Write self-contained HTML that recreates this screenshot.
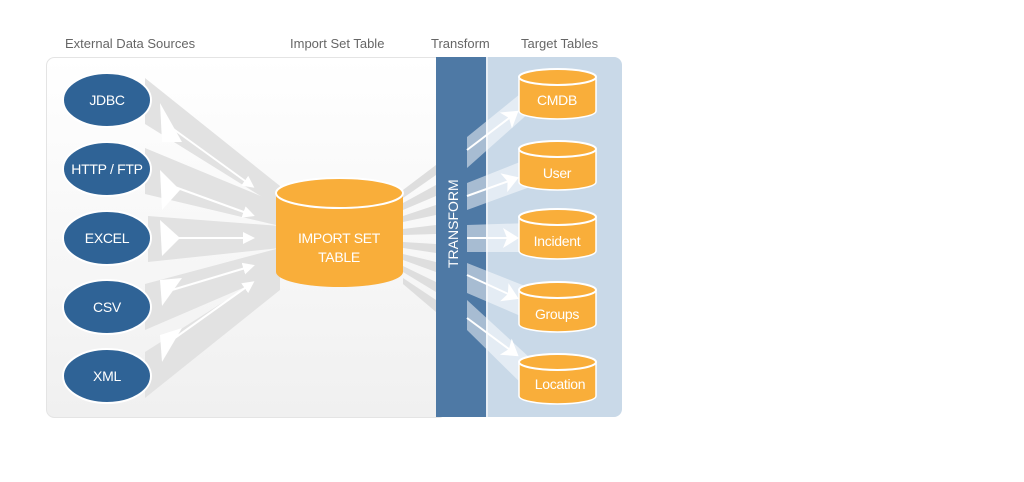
<!DOCTYPE html>
<html><head><meta charset="utf-8"><style>
html,body{margin:0;padding:0;background:#fff;width:1024px;height:482px;overflow:hidden}
svg{display:block}
text{font-family:"Liberation Sans",sans-serif}
</style></head><body>
<svg width="1024" height="482" viewBox="0 0 1024 482">
<defs>
<linearGradient id="lg" x1="0" y1="0" x2="0" y2="1"><stop offset="0" stop-color="#ffffff"/><stop offset="1" stop-color="#f0f0f0"/></linearGradient>
<marker id="ah" markerWidth="12" markerHeight="12" refX="9" refY="6" orient="auto" markerUnits="userSpaceOnUse"><path d="M0,0 L12,6 L0,12 Z" fill="#fff"/></marker>
<marker id="ah2" markerWidth="20" markerHeight="20" refX="14" refY="10" orient="auto" markerUnits="userSpaceOnUse"><path d="M0,0 L16,10 L0,20 L4,10 Z" fill="#fff"/></marker>
</defs>
<g font-size="13" fill="#666">
<text x="65" y="48">External Data Sources</text>
<text x="290" y="48">Import Set Table</text>
<text x="431" y="48">Transform</text>
<text x="521" y="48">Target Tables</text>
</g>
<rect x="46.5" y="57.5" width="400" height="360" rx="8" fill="url(#lg)" stroke="#e4e4e4"/>
<path d="M486,57 H614 a8,8 0 0 1 8,8 V409 a8,8 0 0 1 -8,8 H486 Z" fill="#c9d9e8"/>
<!-- left beams -->
<g fill="#e2e2e2">
<polygon points="145,78 145,124 280,208 280,186"/>
<polygon points="145,148 145,194 280,226 280,204"/>
<polygon points="148,216 148,262 280,248 280,226"/>
<polygon points="145,284 145,330 280,272 280,248"/>
<polygon points="145,352 145,398 280,290 280,266"/>
</g>
<g fill="#fff">
<polygon points="160,103 182,142 162,142"/>
<polygon points="160,170 180,190 162,210"/>
<polygon points="160,220 180,238 162,256"/>
<polygon points="160,280 182,278 162,306"/>
<polygon points="160,335 182,328 162,362"/>
</g>
<g stroke="#fff" stroke-width="2" marker-end="url(#ah)">
<line x1="172" y1="128" x2="252" y2="186"/>
<line x1="172" y1="186" x2="252" y2="215"/>
<line x1="172" y1="238" x2="252" y2="238"/>
<line x1="172" y1="290" x2="252" y2="266"/>
<line x1="172" y1="340" x2="252" y2="283"/>
</g>
<!-- beams cylinder -> bar -->
<g fill="#dedede">
<polygon points="403,190 436,165 436,175 403,198"/>
<polygon points="403,203 436,185 436,196 403,210"/>
<polygon points="403,216 436,205 436,215 403,222"/>
<polygon points="403,229 436,225 436,234 403,235"/>
<polygon points="403,242 436,244 436,253 403,248"/>
<polygon points="403,254 436,262 436,272 403,260"/>
<polygon points="403,266 436,282 436,292 403,272"/>
<polygon points="403,278 436,300 436,312 403,284"/>
</g>
<rect x="436" y="57" width="50" height="360" fill="#4e79a5"/>
<rect x="486" y="57" width="2" height="360" fill="#e8eef5"/>
<text transform="translate(458,268) rotate(-90)" font-size="14" fill="#fff">TRANSFORM</text>
<!-- right beams -->
<g fill="#fff" fill-opacity="0.5">
<polygon points="467,137 467,168 530,112 530,86"/>
<polygon points="467,183 467,210 530,187 530,158"/>
<polygon points="467,225 467,252 530,252 530,223"/>
<polygon points="467,263 467,293 530,320 530,288"/>
<polygon points="467,300 467,330 530,392 530,358"/>
</g>
<g stroke="#fff" stroke-width="2" marker-end="url(#ah2)">
<line x1="467" y1="150" x2="517" y2="112"/>
<line x1="467" y1="196" x2="517" y2="178"/>
<line x1="467" y1="238" x2="517" y2="238"/>
<line x1="467" y1="275" x2="517" y2="298"/>
<line x1="467" y1="318" x2="517" y2="355"/>
</g>
<!-- sources -->
<g stroke="#fff" stroke-width="2" fill="#2f6396">
<ellipse cx="107" cy="100" rx="44" ry="27"/>
<ellipse cx="107" cy="169" rx="44" ry="27"/>
<ellipse cx="107" cy="238" rx="44" ry="27"/>
<ellipse cx="107" cy="307" rx="44" ry="27"/>
<ellipse cx="107" cy="376" rx="44" ry="27"/>
</g>
<g fill="#fff" font-size="14" text-anchor="middle" letter-spacing="-0.3">
<text x="107" y="105">JDBC</text>
<text x="107" y="174">HTTP / FTP</text>
<text x="107" y="243">EXCEL</text>
<text x="107" y="312">CSV</text>
<text x="107" y="381">XML</text>
</g>
<!-- import set cylinder -->
<path d="M276,193 V272 A63.5,15 0 0 0 403,272 V193 Z" fill="#f9ae3a"/>
<ellipse cx="339.5" cy="193" rx="63.5" ry="15" fill="#f9ae3a" stroke="#fff" stroke-width="2"/>
<g fill="#fff" font-size="14" text-anchor="middle" letter-spacing="-0.3">
<text x="339" y="243">IMPORT SET</text>
<text x="339" y="262">TABLE</text>
</g>
<!-- targets -->
<g fill="#f9ae3a">
<path d="M519,77 V111 A38.5,8 0 0 0 596,111 V77 Z" stroke="#fff" stroke-width="1.5"/>
<ellipse cx="557.5" cy="77" rx="38.5" ry="8" stroke="#fff" stroke-width="2"/>
<path d="M519,149 V182 A38.5,8 0 0 0 596,182 V149 Z" stroke="#fff" stroke-width="1.5"/>
<ellipse cx="557.5" cy="149" rx="38.5" ry="8" stroke="#fff" stroke-width="2"/>
<path d="M519,217 V251 A38.5,8 0 0 0 596,251 V217 Z" stroke="#fff" stroke-width="1.5"/>
<ellipse cx="557.5" cy="217" rx="38.5" ry="8" stroke="#fff" stroke-width="2"/>
<path d="M519,290 V324 A38.5,8 0 0 0 596,324 V290 Z" stroke="#fff" stroke-width="1.5"/>
<ellipse cx="557.5" cy="290" rx="38.5" ry="8" stroke="#fff" stroke-width="2"/>
<path d="M519,362 V396 A38.5,8 0 0 0 596,396 V362 Z" stroke="#fff" stroke-width="1.5"/>
<ellipse cx="557.5" cy="362" rx="38.5" ry="8" stroke="#fff" stroke-width="2"/>
</g>
<g fill="#fff" font-size="14" text-anchor="middle" letter-spacing="-0.3">
<text x="557" y="105">CMDB</text>
<text x="557" y="178">User</text>
<text x="557" y="246">Incident</text>
<text x="557" y="319">Groups</text>
<text x="560" y="389">Location</text>
</g>
</svg>
</body></html>
